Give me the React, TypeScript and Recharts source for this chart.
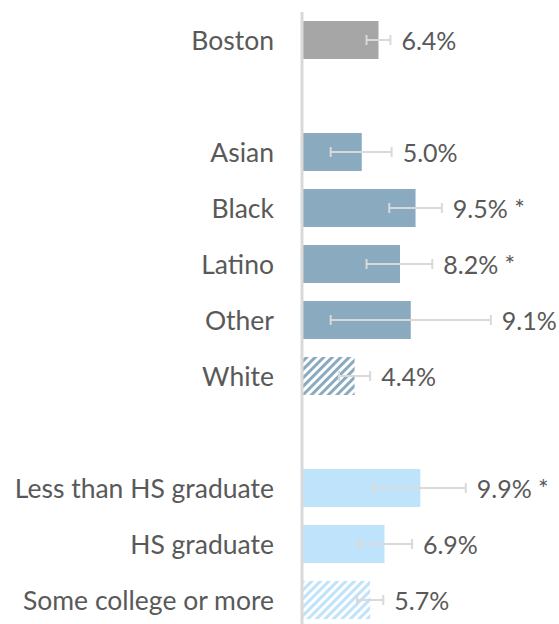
import { BarChart, Bar, XAxis, YAxis, Cell, ErrorBar, LabelList } from 'recharts';

const categories = ['Boston', ' ', 'Asian', 'Black', 'Latino', 'Other', 'White', '  ', 'Less than HS graduate', 'HS graduate', 'Some college or more'];
const values = [6.4, null, 5.0, 9.5, 8.2, 9.1, 4.4, null, 9.9, 6.9, 5.7];
const lower = [5.4, null, 2.4, 7.3, 5.4, 2.4, 3.1, null, 6.0, 4.7, 4.6];
const upper = [7.4, null, 7.5, 11.7, 10.9, 15.8, 5.7, null, 13.7, 9.2, 6.8];
const groups = ['total', '', 'race', 'race', 'race', 'race', 'race', '', 'edu', 'edu', 'edu'];
const reference = [false, false, false, false, false, false, true, false, false, false, true];
const significant = [false, false, false, true, true, false, false, false, true, false, false];

const COLORS: Record<string, string> = {
  total: '#a6a6a6',
  race: '#8aabbf',
  edu: '#bee3fa',
};

const FONT = 'Lato, "Open Sans", sans-serif';
const TEXT = '#595959';

const data = categories.map((name, i) => ({
  name,
  value: values[i],
  err: values[i] == null ? [0, 0] : [values[i]! - lower[i]!, upper[i]! - values[i]!],
}));

function CategoryTick({ x, y, payload }: any) {
  return (
    <text x={x - 20} y={y} textAnchor="end" dominantBaseline="central" fontSize={26.5} fontFamily={FONT} fill={TEXT}>
      {payload.value}
    </text>
  );
}

function ValueLabel({ x, y, width, height, value }: any) {
  const i = categories.indexOf(value);
  const v = values[i];
  if (i < 0 || v == null) return null;
  // place the label just past the upper end of the error bar
  const end = x + (width * upper[i]!) / v;
  return (
    <text x={end + 11} y={y + height / 2} dominantBaseline="central" fontSize={25} fontFamily={FONT} fill={TEXT}>
      {v.toFixed(1) + '%' + (significant[i] ? ' *' : '')}
    </text>
  );
}

export default function App() {
  return (
    <div style={{ width: 559, height: 624, overflow: 'hidden', background: '#fff' }}>
      <style>{'body { margin: 0; }'}</style>
      <BarChart
        width={559}
        height={630}
        data={data}
        layout="vertical"
        margin={{ top: 12, right: 6, bottom: 2, left: 0 }}
        barSize={38}
      >
        <defs>
          <pattern id="hatch-race" width="6" height="6" patternUnits="userSpaceOnUse" patternTransform="rotate(45)">
            <rect width="6" height="6" fill="#ffffff" />
            <rect width="3" height="6" fill={COLORS.race} />
          </pattern>
          <pattern id="hatch-edu" width="6" height="6" patternUnits="userSpaceOnUse" patternTransform="rotate(45)">
            <rect width="6" height="6" fill="#ffffff" />
            <rect width="3" height="6" fill={COLORS.edu} />
          </pattern>
        </defs>
        <XAxis type="number" domain={[0, 21]} hide />
        <YAxis
          type="category"
          dataKey="name"
          width={302}
          axisLine={{ stroke: '#d9d9d9', strokeWidth: 3 }}
          tickLine={false}
          tick={<CategoryTick />}
          interval={0}
        />
        <Bar dataKey="value" isAnimationActive={false}>
          {data.map((d, i) => (
            <Cell
              key={`cell-${i}`}
              fill={reference[i] ? `url(#hatch-${groups[i]})` : COLORS[groups[i]] || 'none'}
            />
          ))}
          <ErrorBar dataKey="err" direction="x" width={5} stroke="#d9d9d9" strokeWidth={2} />
          <LabelList dataKey="name" content={<ValueLabel />} />
        </Bar>
      </BarChart>
    </div>
  );
}
